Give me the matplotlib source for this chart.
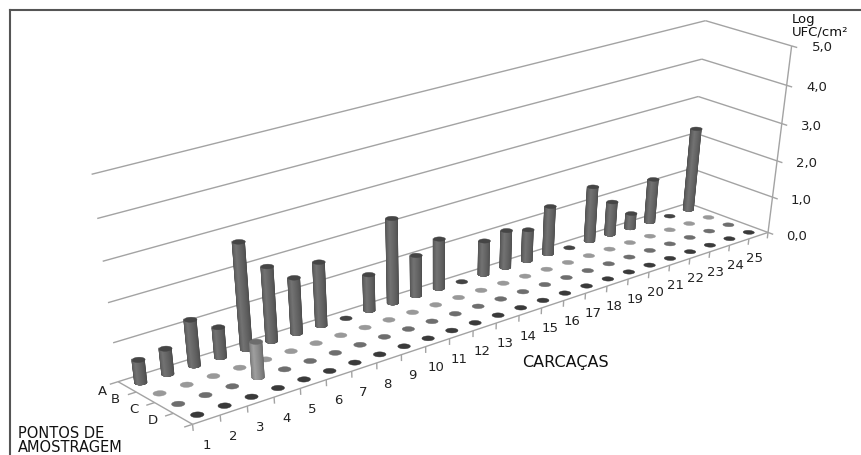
import numpy as np
import matplotlib
matplotlib.use('Agg')
import matplotlib.pyplot as plt
from matplotlib.lines import Line2D
from mpl_toolkits.mplot3d import proj3d
from mpl_toolkits.mplot3d.art3d import Poly3DCollection

carcacas = [str(i) for i in range(1, 26)]
pontos = ['A', 'B', 'C', 'D']
z_ticks = [0, 1, 2, 3, 4, 5]
z_labels = ['0,0', '1,0', '2,0', '3,0', '4,0', '5,0']

# Log UFC/cm2 por ponto e carcaca
ponto_a = [0.6, 0.67, 1.2, 0.8, 2.75, 1.95, 1.47, 1.68, 0, 0.97, 2.25, 1.1, 1.35,
           0, 0.93, 1.03, 0.87, 1.33, 0, 1.52, 0.93, 0.43, 1.22, 0, 2.3]
ponto_b = [0] * 25
ponto_c = [0, 0, 0, 0.93] + [0] * 21
ponto_d = [0] * 25
valores = [ponto_a, ponto_b, ponto_c, ponto_d]

corpo = [0x70, 0x80, 0x9c, 0x70]
disco = ['#444444', '#999999', '#6e6e6e', '#3a3a3a']
tampa = ['#454545', '#999999', '#6c6c6c', '#3a3a3a']
cinza = '#a3a3a3'
raio = 0.2
azim = -130.932
faixas = np.linspace(105, 6, 12)

fig = plt.figure(figsize=(8.61, 4.56), dpi=100)
ax = fig.add_axes([43.7 / 861, -43.0 / 456, 828.3 / 861, 567.2 / 456], projection='3d')
# the original picture is stretched sideways, so the 3d box can't stay square
ax.apply_aspect = lambda position=None: None
ax.computed_zorder = False
ax.set_axis_off()
ax.view_init(30.2524, azim, -0.5039)
ax.set_proj_type('persp', focal_length=0.50553)
ax.set_box_aspect((1, 0.16068, 0.42757))


def linha(xs, ys, zs, lw=1.0, c=cinza):
    ax.plot(xs, ys, zs, color=c, lw=lw, zorder=1, solid_capstyle='butt')


def cilindro(x, y, h, cor_corpo, cor_tampa, zo):
    if h > 0:
        # nested bands around the lit side, dark one first, so no seams show
        for n, t in enumerate(faixas):
            luz = 1 - t / faixas[0]
            g = min((0.62 + 0.42 * luz) * cor_corpo, 255) / 255
            centro = azim - 18 * luz
            a = np.deg2rad(np.linspace(centro - t, centro + t, 25))
            bx = x + raio * np.cos(a)
            by = y + raio * np.sin(a)
            fundo = list(zip(bx, by, [0] * len(a)))
            cima = list(zip(bx, by, [h] * len(a)))
            ax.add_collection3d(Poly3DCollection([fundo + cima[::-1]], facecolors=[(g, g, g)],
                                                 edgecolors='none', zorder=zo + n * 0.01), autolim=False)
    ang = np.linspace(0, 2 * np.pi, 41)
    topo = [list(zip(x + raio * np.cos(ang), y + raio * np.sin(ang), [h] * len(ang)))]
    ax.add_collection3d(Poly3DCollection(topo, facecolors=cor_tampa, edgecolors=cor_tampa,
                                         linewidths=0.3, zorder=zo + 0.5), autolim=False)


nx = len(carcacas)
ny = len(pontos)

# paredes
for z in z_ticks[1:]:
    linha([0, nx], [ny, ny], [z, z])
    linha([nx, nx], [ny, 0], [z, z])
    linha([nx, nx], [0, -0.25], [z, z])
linha([nx, nx], [0, 0], [0, 5])
linha([nx, nx], [0, -0.25], [0, 0])

# chao
linha([0, nx], [0, 0], [0, 0])
linha([0, nx], [ny, ny], [0, 0])
linha([0, 0], [0, ny], [0, 0])
linha([nx, nx], [0, ny], [0, 0])
for i in range(nx + 1):
    linha([i, i], [0, 0], [0, -0.17])
for j in range(ny + 1):
    linha([0, -0.3], [j, j], [0, 0])

# ponto A fica no fundo, carcaca 25 fica mais longe
zo = 2
for j in range(ny):
    for i in range(nx - 1, -1, -1):
        h = valores[j][i]
        cor = disco[j] if h == 0 else tampa[j]
        cilindro(i + 0.5, ny - j - 0.5, h, corpo[j], cor, zo)
        zo += 1

ax.set_xlim(0, nx, view_margin=0)
ax.set_ylim(0, ny, view_margin=0)
ax.set_zlim(0, 5, view_margin=0)
M = ax.get_proj()


def rotulo(x, y, z, s):
    # plain 2d text at the projected spot
    px, py, _ = proj3d.proj_transform(x, y, z, M)
    ax.text2D(px, py, s, transform=ax.transData, fontsize=9.5, color='#222222',
              ha='center', va='center', zorder=500)


for i in range(nx):
    rotulo(i + 0.42, 0, -0.63, carcacas[i])
pos_pontos = [3.2, 2.5, 1.5, 0.5]
for j in range(ny):
    rotulo(-1.05, pos_pontos[j], 0.22, pontos[j])
for z, t in zip(z_ticks, z_labels):
    rotulo(nx, -1.3, z + 0.2, t)

fig.text(565 / 861, 1 - 363 / 456, 'CARCAÇAS', fontsize=11.5, color='#111111', ha='center', va='center')
fig.text(18 / 861, 1 - 440.5 / 456, 'PONTOS DE\nAMOSTRAGEM', fontsize=10.5, color='#111111',
         ha='left', va='center', linespacing=0.9)
fig.text(792 / 861, 1 - 26 / 456, 'Log\nUFC/cm²', fontsize=9.5, color='#111111',
         ha='left', va='center', linespacing=0.95)

# moldura so em cima e na esquerda
fig.add_artist(Line2D([10 / 861, 1], [1 - 10.5 / 456] * 2, color='#555555', lw=1.5))
fig.add_artist(Line2D([10 / 861] * 2, [0, 1 - 10.5 / 456], color='#555555', lw=1.5))

fig.savefig('out.png', dpi=100)
